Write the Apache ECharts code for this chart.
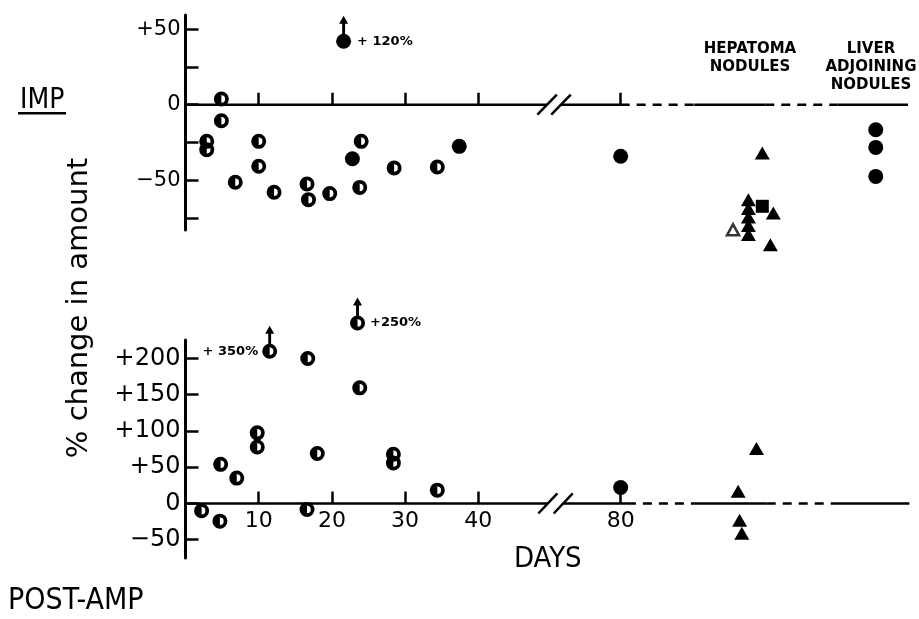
<!DOCTYPE html>
<html><head><meta charset="utf-8">
<script src="https://cdn.jsdelivr.net/npm/echarts@6/dist/echarts.min.js"></script>
<style>html,body{margin:0;padding:0;background:#fff}#c{width:919px;height:619px}</style>
</head><body><div id="c"></div>
<script>
// ================= DATA =================
// x tick labels (days); 80 lies beyond the axis break
const xTickDays = [10, 20, 30, 40, 80];
const impTickValues = [-75, -50, -25, 0, 25, 50];
const impLabelValues = [-50, 0, 50];
const postTickValues = [-50, 0, 50, 100, 150, 200];

// IMP panel: [day, % change]
const impHalf = [[4.9,3.8],[4.9,-10.6],[2.9,-24.3],[2.9,-29.8],[10,-24.3],[10,-40.8],[6.8,-51.4],
  [12.1,-58],[16.6,-52.5],[16.8,-62.9],[19.7,-58.9],[24,-24.3],[23.8,-54.8],[28.5,-41.9],[34.4,-41.3]];
const impFilled = [[22.8,-35.8],[37.4,-27.6],[80,-34.2]];
const impOffScale = [[21.6,42,'+ 120%']];
// hepatoma / liver groups: [x position, % change]
const impHepTri = [[76.9,-62.9],[76.9,-68.7],[76.9,-74.4],[76.9,-80.1],[76.9,-85.9],[78.8,-32],[80.3,-71.7],[79.9,-92.7]];
const impHepSquare = [[78.8,-67.3]];
const impHepOpenTri = [[74.8,-82.8]];
const impLiver = [[94.3,-16.6],[94.3,-28.3],[94.3,-47.5]];

// POST-AMP panel: [day, % change]
const postHalf = [[16.7,200],[23.8,159.5],[9.8,97.4],[9.8,78],[18,69],[28.4,68],[28.4,56],[4.8,54],
  [7,35],[34.4,18.4],[2.2,-10],[16.6,-8.3],[4.7,-24.4]];
const postOffScale = [[11.5,210,'+ 350%'],[23.5,249,'+250%']];
const postFilled = [[80,22]];
const postHepTri = [[78.0,76],[75.5,17],[75.7,-23],[76.0,-41]];

// ================= LAYOUT / HELPERS =================
const POS80 = 59.45;                        // axis position of day 80 after the break
function pos(d){ return d <= 45 ? d : POS80 + (d - 80); }
function mapDays(arr){ return arr.map(p => [pos(p[0]), p[1]]); }
const numFont = "'DejaVu Sans', sans-serif";
const narrowFont = "'Liberation Sans Narrow','DejaVu Sans Condensed','Liberation Sans',sans-serif";
// thick ring (outer r10 clockwise, hole r5 anticlockwise) + left half disc (clockwise, r5.6)
const HALF = 'path://M0,10A10,10,0,0,1,10,0A10,10,0,0,1,20,10A10,10,0,0,1,10,20A10,10,0,0,1,0,10Z' +
  ' M5,10A5,5,0,0,0,10,15A5,5,0,0,0,15,10A5,5,0,0,0,10,5A5,5,0,0,0,5,10Z' +
  ' M10,15.6A5.6,5.6,0,0,1,4.4,10A5.6,5.6,0,0,1,10,4.4Z';
const ARROW = 'path://M5,0L10,10L6.6,10L6.6,24L3.4,24L3.4,10L0,10Z';
const tickPos = xTickDays.map(pos);

const G = [
  {top:15, height:215, ymin:-83, ymax:59.4},
  {top:340, height:218, ymin:-75.2, ymax:225.5}
];
function xAxisCfg(gi, showLabels){
  const g = G[gi];
  return {
    type:'value', gridIndex:gi, min:0, max:100,
    offset: -g.height * (0 - g.ymin) / (g.ymax - g.ymin),   // place axis on the zero line
    axisLine:{show:true, onZero:false, lineStyle:{opacity:0}},
    splitLine:{show:false},
    axisTick:{show:true, inside:true, length:12, customValues:tickPos, lineStyle:{color:'#000', width:2.5}},
    axisLabel:{show:showLabels, customValues:tickPos, color:'#000', fontSize:22, fontFamily:numFont, margin:7,
      formatter:v => { let i = tickPos.findIndex(t => Math.abs(t - v) < 0.01); return i >= 0 ? String(xTickDays[i]) : ''; }}
  };
}
function yFmt(v){ return v > 0 ? '+' + v : (v < 0 ? '\u2212' + Math.abs(v) : '0'); }
function yAxisCfg(gi, ticks, labels, fs){
  return {
    type:'value', gridIndex:gi, min:G[gi].ymin, max:G[gi].ymax,
    axisLine:{show:true, onZero:false, lineStyle:{color:'#000', width:3}},
    splitLine:{show:false},
    axisTick:{show:true, inside:true, length:13, customValues:ticks, lineStyle:{color:'#000', width:2.5}},
    axisLabel:{customValues:labels, formatter:yFmt, color:'#000', fontSize:fs, fontFamily:numFont, margin:5}
  };
}

// zero-line segments (solid & dashed) and break slashes, in axis units
function segSeries(gi, x0, x1, dashed){
  return {type:'line', xAxisIndex:gi, yAxisIndex:gi, data:[[x0,0],[x1,0]], symbol:'none', silent:true, z:1,
    lineStyle:{color:'#000', width:2.5, type: dashed ? [9,7] : 'solid'}};
}
function slashSeries(gi, cx, dxUnits, dyUnits){
  return {type:'line', xAxisIndex:gi, yAxisIndex:gi, data:[[cx-dxUnits,-dyUnits],[cx+dxUnits,dyUnits]], symbol:'none', silent:true, z:1,
    lineStyle:{color:'#000', width:2.5}};
}
const decor = [
  segSeries(0,0,49.4,false), segSeries(0,51.3,POS80,false), segSeries(0,POS80,69.5,true),
  segSeries(0,69.5,79.2,false), segSeries(0,79.2,89.1,true), segSeries(0,89.1,98.7,false),
  slashSeries(0,49.4,1.33,6.6), slashSeries(0,51.3,1.33,6.6),
  segSeries(1,0,49.5,false), segSeries(1,51.6,60.3,false), segSeries(1,60.3,69.6,true),
  segSeries(1,69.6,79.4,false), segSeries(1,79.4,89.0,true), segSeries(1,89.0,98.9,false),
  slashSeries(1,49.5,1.3,13.8), slashSeries(1,51.6,1.3,13.8)
];

const labelStyle = {color:'#000', fontSize:13, fontWeight:'bold', fontFamily:numFont};
function sc(gi, data, symbol, size, extra){
  return Object.assign({type:'scatter', xAxisIndex:gi, yAxisIndex:gi, data:data, symbol:symbol, symbolSize:size,
    clip:false, z:5, itemStyle:{color:'#000', opacity:1}}, extra || {});
}
function offItems(arr, positions){
  return arr.map((p, i) => ({value:[pos(p[0]), p[1]],
    label:Object.assign({show:true, formatter:p[2]}, labelStyle, positions[i])}));
}

const option = {
  animation:false,
  backgroundColor:'#fff',
  grid:G.map(g => ({left:185.5, top:g.top, width:732, height:g.height})),
  xAxis:[xAxisCfg(0,false), xAxisCfg(1,true)],
  yAxis:[yAxisCfg(0,impTickValues,impLabelValues,21), yAxisCfg(1,postTickValues,postTickValues,24)],
  series: decor.concat([
    sc(0, mapDays(impHalf), HALF, 15),
    sc(0, mapDays(impFilled), 'circle', 15),
    sc(0, offItems(impOffScale, [{position:'right', distance:6}]), 'circle', 15),
    sc(0, mapDays(impOffScale), ARROW, [9,19], {symbolOffset:[0,-16]}),
    sc(0, impHepTri, 'triangle', [15,13]),
    sc(0, impHepSquare, 'rect', 13),
    sc(0, impHepOpenTri, 'triangle', [12,11], {itemStyle:{color:'#fff', borderColor:'#000', borderWidth:2.5}}),
    sc(0, impLiver, 'circle', 15),
    sc(1, mapDays(postHalf), HALF, 15),
    sc(1, offItems(postOffScale, [{position:'left', distance:4}, {position:'right', distance:5}]), HALF, 15),
    sc(1, mapDays(postOffScale), ARROW, [9,19], {symbolOffset:[0,-16]}),
    sc(1, mapDays(postFilled), 'circle', 15),
    sc(1, postHepTri, 'triangle', [15,13])
  ]),
  graphic:[
    {type:'text', left:20, top:87, style:{text:'IMP', fill:'#000', font:'28px ' + narrowFont}},
    {type:'rect', shape:{x:18, y:112, width:48, height:2.5}, style:{fill:'#000'}},
    {type:'text', left:8, top:586, style:{text:'POST-AMP', fill:'#000', font:'30px ' + narrowFont}},
    {type:'text', left:514, top:545, style:{text:'DAYS', fill:'#000', font:'29px ' + narrowFont}},
    {type:'text', x:79, y:308, rotation:Math.PI/2,
      style:{text:'% change in amount', fill:'#000', font:'29px ' + numFont, textAlign:'center', align:'center', textVerticalAlign:'middle', verticalAlign:'middle'}},
    {type:'text', x:750, y:40,
      style:{text:'HEPATOMA\nNODULES', fill:'#000', font:'bold 15px ' + numFont, lineHeight:18, textAlign:'center', align:'center'}},
    {type:'text', x:871, y:40,
      style:{text:'LIVER\nADJOINING\nNODULES', fill:'#000', font:'bold 15px ' + numFont, lineHeight:18, textAlign:'center', align:'center'}}
  ]
};
const chart = echarts.init(document.getElementById('c'));
chart.setOption(option);
</script>
</body></html>
